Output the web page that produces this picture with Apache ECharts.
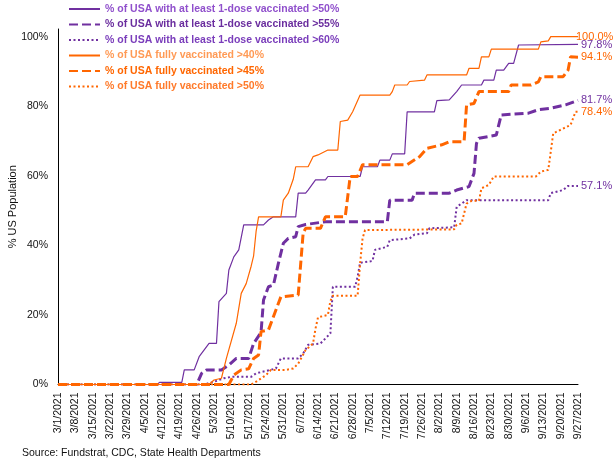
<!DOCTYPE html>
<html>
<head>
<meta charset="utf-8">
<script src="https://cdn.jsdelivr.net/npm/echarts@6/dist/echarts.min.js"></script>
<style>html,body{margin:0;padding:0;background:#fff}#c{width:616px;height:467px}</style>
</head>
<body>
<div id="c"></div>
<script>
// x = days since 3/1/2021, y = % of US population
var startDate = [2021, 3, 1];
var dayCount = 211;
var seriesNames = [
  '% of USA with at least 1-dose vaccinated >50%',
  '% of USA with at least 1-dose vaccinated >55%',
  '% of USA with at least 1-dose vaccinated >60%',
  '% of USA fully vaccinated >40%',
  '% of USA fully vaccinated >45%',
  '% of USA fully vaccinated >50%'
];
var dose1Over50 = [[0,0],[40,0],[41,0.6],[50,0.6],[51,4.2],[55,4.2],[57,8],[61,11.8],[64,11.8],[65,23.8],[68,26.2],[69,32.9],[71,36.7],[73,38.7],[75,45.9],[83,45.9],[85,47.3],[87,48.2],[96,48.2],[97,55],[100,55],[101,55.9],[104,58.8],[108,58.8],[109,59.8],[122,59.8],[123,62.6],[129,62.6],[130,64.5],[134,64.5],[135,66.3],[140,66.3],[141,78.4],[152,78.4],[153,81.6],[158,81.8],[161,84.2],[163,86.1],[171,86.1],[172,87.5],[176,87.5],[177,90.4],[180,90.4],[182,92.3],[184,92.3],[186,97.6],[210,97.8]];
var dose1Over55 = [[0,0],[56,0],[58,3.2],[60,4.2],[66,4.2],[69,5.6],[72,7.5],[77,7.5],[79,11.8],[82,15],[83,24.3],[85,28.1],[87,28.6],[89,34.8],[91,40.6],[93,42],[96,42.5],[97,45.4],[100,46],[108,46.8],[133,46.8],[134,53],[143,53],[144,55],[158,55],[161,55.9],[166,56.9],[168,60.7],[169,69.3],[170,70.8],[177,71.7],[179,77.5],[190,78],[194,79],[199,79.4],[205,80.4],[210,81.7]];
var dose1Over60 = [[0,0],[59,0],[63,0.8],[67,1.8],[70,2.2],[78,2.2],[80,3.2],[88,4.6],[90,7.5],[97,7.5],[99,8.9],[101,11.4],[106,11.8],[110,14.7],[111,28.1],[120,28.1],[121,31],[122,35],[127,35.5],[128,38.7],[133,39.6],[134,41.5],[142,42],[144,43.1],[149,43.5],[150,44.9],[160,45.2],[161,51.1],[163,52],[165,53],[198,53],[199,55],[204,55.9],[206,57.1],[210,57.1]];
var fullyOver40 = [[0,0],[61,0],[63,1.3],[66,1.8],[68,7.5],[72,17.6],[74,26.2],[76,29],[78,34],[79,37],[80,44],[81,48.2],[90,48.2],[91,53],[93,55],[95,59],[96,62.6],[101,62.6],[103,65.5],[105,66],[109,67.4],[113,67.4],[114,75.6],[117,76],[119,78.4],[122,83.2],[134,83.2],[135,84.2],[136,86.1],[141,86.1],[142,87.1],[148,87.5],[149,89],[165,89],[166,90.9],[170,90.9],[171,94.2],[174,94.2],[175,96.4],[194,96.4],[195,98.5],[198,98.8],[199,100],[210,100]];
var fullyOver45 = [[0,0],[69,0],[71,2.7],[74,4.2],[77,4.5],[79,7.5],[81,8.5],[82,15.2],[85,15.7],[90,25.2],[97,25.7],[99,43.5],[100,44.9],[106,44.9],[108,48.2],[116,48.2],[118,59.8],[121,59.8],[123,63.2],[141,63.2],[146,65.5],[149,67.9],[155,68.9],[158,69.8],[164,69.8],[165,80.4],[168,80.8],[170,84.2],[182,84.2],[183,86.1],[191,86.1],[194,87],[195,88.5],[204,88.5],[206,90.4],[207,94.2],[210,94.1]];
var fullyOver50 = [[0,0],[78,0],[80,0.8],[84,2.7],[86,4.2],[92,4.2],[95,4.6],[97,6],[100,9.9],[103,11.8],[104,16.1],[105,19.3],[109,20],[110,24],[111,25.5],[121,25.5],[122,34.8],[123,42],[124,44.4],[160,44.6],[161,45.9],[163,46.3],[165,52],[167,52.8],[170,52.8],[171,56.4],[174,57.4],[176,59.8],[193,59.8],[195,61.2],[198,61.7],[200,72.2],[207,74.6],[209,78.4],[210,78.4]];
var yTicks = [0, 20, 40, 60, 80, 100];

var PURPLE = '#7030A0', ORANGE = '#FF6600';
var categories = [];
(function(){
  var d = new Date(startDate[0], startDate[1]-1, startDate[2]);
  for (var i = 0; i < dayCount; i++) {
    categories.push((d.getMonth()+1) + '/' + d.getDate() + '/' + d.getFullYear());
    d.setDate(d.getDate()+1);
  }
})();

var FONT = 'Liberation Sans, Arial, sans-serif';
function mk(name, data, color, width, type, labelOffset) {
  return {
    name: name, type: 'line', data: data, symbol: 'none', showSymbol: false,
    lineStyle: {color: color, width: width, type: type},
    itemStyle: {color: color},
    endLabel: {show: true, distance: 3, offset: labelOffset || [0,0], color: color, fontSize: 11, fontFamily: FONT,
      formatter: function(p){ return p.value[1].toFixed(1) + '%'; }},
    silent: true
  };
}
var legendColors = ['#9050CC', '#6A2D9E', '#7A3DBB', '#FF9A55', '#FF6600', '#FF7A2A'];
var chart = echarts.init(document.getElementById('c'), null, {renderer: 'canvas'});
chart.setOption({
  animation: false,
  backgroundColor: '#fff',
  grid: {left: 58, right: 38, top: 29, bottom: 82.5, containLabel: false, outerBoundsMode: 'none'},
  legend: {
    orient: 'vertical', left: 68, top: 3, padding: 0, itemWidth: 31, itemHeight: 12, itemGap: 3.5,
    itemStyle: {opacity: 0},
    textStyle: {fontFamily: FONT, fontSize: 10.5, fontWeight: 'bold', lineHeight: 12},
    data: seriesNames.map(function(n, i){ return {name: n, textStyle: {color: legendColors[i]}}; }),
    selectedMode: false
  },
  xAxis: {
    type: 'category', data: categories, boundaryGap: false,
    axisLine: {lineStyle: {color: '#000', width: 1}},
    axisTick: {show: false},
    axisLabel: {interval: 6, rotate: 90, fontSize: 10.5, fontFamily: FONT, color: '#111', margin: 8},
    splitLine: {show: false}
  },
  yAxis: {
    type: 'value', min: 0, max: 102.2, interval: 20,
    name: '% US Population', nameLocation: 'middle', nameGap: 40, nameRotate: 90, nameMoveOverlap: false,
    nameTextStyle: {fontFamily: FONT, fontSize: 11, color: '#111'},
    axisLine: {show: true, lineStyle: {color: '#000', width: 1}},
    axisTick: {show: false},
    splitLine: {show: false},
    axisLabel: {fontSize: 10.5, fontFamily: FONT, color: '#111', margin: 10, showMaxLabel: false,
      formatter: function(v){ return yTicks.indexOf(v) >= 0 ? v + '%' : ''; }}
  },
  series: [
    mk(seriesNames[0], dose1Over50, PURPLE, 1.2, 'solid', [0, 1]),
    mk(seriesNames[1], dose1Over55, PURPLE, 3, [9, 4]),
    mk(seriesNames[2], dose1Over60, PURPLE, 2, [2, 2.5]),
    mk(seriesNames[3], fullyOver40, ORANGE, 1.2, 'solid', [-5, 0]),
    mk(seriesNames[4], fullyOver45, ORANGE, 3, [9, 4]),
    mk(seriesNames[5], fullyOver50, ORANGE, 2, [2, 2.5])
  ],
  graphic: [{type: 'text', left: 22, top: 448, style: {text: 'Source: Fundstrat, CDC, State Health Departments', font: '10.5px ' + FONT, fill: '#111'}}]
});
</script>
</body>
</html>
